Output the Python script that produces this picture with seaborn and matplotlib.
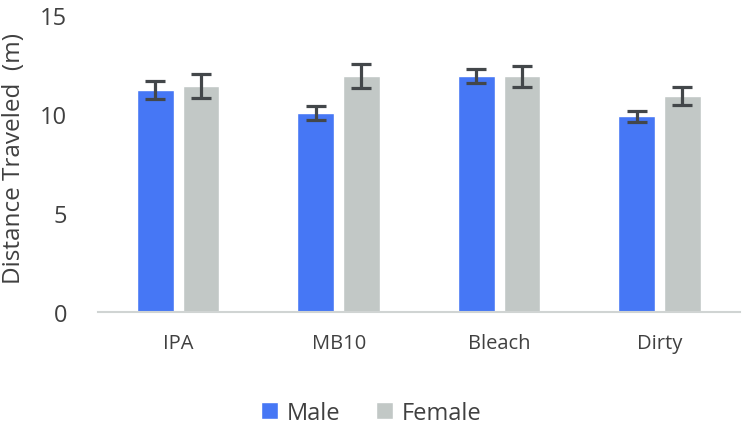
import pandas as pd
import numpy as np
import matplotlib.pyplot as plt
import seaborn as sns

# Values
treatments = ['IPA', 'MB10', 'Bleach', 'Dirty']
male_mean = [11.2, 10.05, 11.9, 9.88]
female_mean = [11.4, 11.9, 11.9, 10.9]
male_err = [0.44, 0.36, 0.36, 0.28]
female_err = [0.6, 0.61, 0.53, 0.44]

df = pd.DataFrame({
    'Treatment': treatments * 2,
    'Sex': ['Male'] * 4 + ['Female'] * 4,
    'Distance': male_mean + female_mean,
    'Err': male_err + female_err,
})

sns.set_style('white')
plt.rcParams['font.family'] = ['Open Sans', 'DejaVu Sans']
text_color = '#404040'

fig = plt.figure(figsize=(7.42, 4.31), dpi=100)
ax = fig.add_axes([0.132, 0.274, 0.865, 0.689])

sns.barplot(data=df, x='Treatment', y='Distance', hue='Sex',
            palette={'Male': '#4677f5', 'Female': '#c2c8c6'},
            width=0.57, gap=0.2, errorbar=None, saturation=1, ax=ax)

# Error bars at the centre of each drawn bar
for container, sex in zip(ax.containers, ['Male', 'Female']):
    sub = df[df['Sex'] == sex]
    xs = [p.get_x() + p.get_width() / 2 for p in container.patches]
    ax.errorbar(xs, sub['Distance'], yerr=sub['Err'], fmt='none',
                ecolor='#43474a', elinewidth=2.3, capsize=7.3, capthick=2.3)

ax.set_ylim(0, 15)
ax.set_yticks([0, 5, 10, 15])
ax.set_xlim(-0.5, 3.5)
ax.set_xlabel('')
ax.set_ylabel('Distance Traveled  (m)', fontsize=17.5, color=text_color)
ax.yaxis.set_label_coords(-0.112, 0.52)
ax.tick_params(axis='y', labelsize=17, colors=text_color, length=0, pad=22)
ax.tick_params(axis='x', labelsize=14.5, colors=text_color, length=0, pad=15)

sns.despine(ax=ax, left=True)
ax.spines['bottom'].set_color('#d0d4d3')
ax.spines['bottom'].set_linewidth(1.5)

ax.legend_.remove()
handles, labels = ax.get_legend_handles_labels()
fig.legend(handles, labels, loc='center', bbox_to_anchor=(0.5, 0.04), ncol=2,
           frameon=False, fontsize=17, labelcolor=text_color,
           handlelength=0.75, handleheight=0.75, handletextpad=0.35, columnspacing=1.5)

fig.savefig('out.png', dpi=100)
